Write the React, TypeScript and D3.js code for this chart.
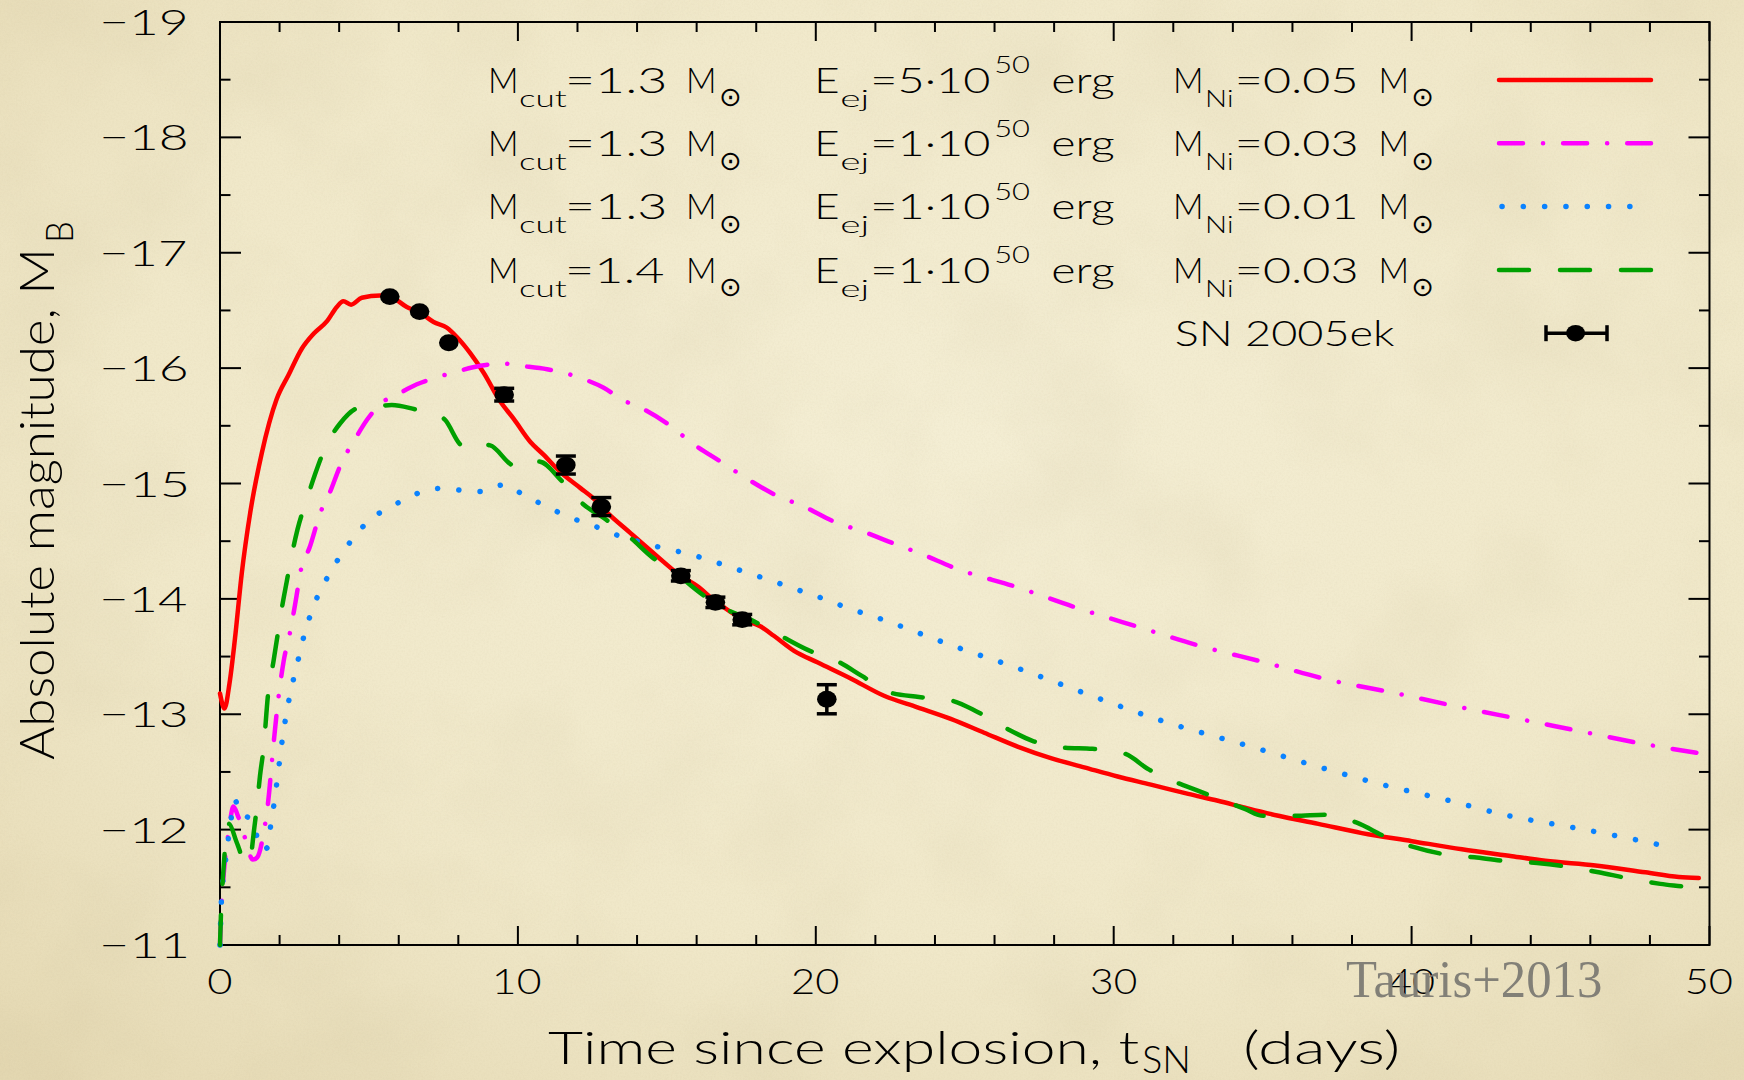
import React from "react";
import * as d3 from "d3";

const W = 1744;
const H = 1080;

// Model B-band light curves: days since explosion and absolute magnitude M_B
const redDays = [0, 0.15, 0.32, 0.5, 0.73, 1.01, 1.4, 1.9, 2.3, 2.75, 3.15, 3.6, 3.92, 4.14, 4.4, 4.76, 5.38, 5.71, 6.27, 6.72, 7.17, 7.62, 7.95, 8.4, 8.85, 9.41, 9.86, 10.42, 10.86, 11.42, 12.1, 12.54, 12.99, 13.78, 14.67, 15.46, 16.02, 16.58, 17.58, 18.15, 18.59, 19.27, 20.05, 21.17, 22.29, 23.41, 24.53, 25.65, 26.77, 27.89, 29.01, 30.13, 31.25, 32.5, 33.5, 34.41, 35.53, 36.87, 38.33, 40.01, 41.69, 43.37, 44.49, 46.17, 47.85, 48.97, 49.64];
const redMag = [-13.18, -13.05, -13.27, -13.65, -14.22, -14.74, -15.26, -15.73, -15.94, -16.17, -16.3, -16.41, -16.53, -16.58, -16.55, -16.61, -16.63, -16.62, -16.53, -16.48, -16.4, -16.35, -16.27, -16.13, -15.96, -15.71, -15.56, -15.36, -15.25, -15.1, -14.96, -14.87, -14.75, -14.57, -14.37, -14.2, -14.11, -13.99, -13.82, -13.76, -13.68, -13.55, -13.45, -13.31, -13.16, -13.06, -12.96, -12.84, -12.72, -12.62, -12.54, -12.46, -12.39, -12.31, -12.25, -12.19, -12.12, -12.05, -11.97, -11.9, -11.83, -11.77, -11.73, -11.69, -11.63, -11.59, -11.58];

const magentaDays = [0, 0.05, 0.12, 0.3, 0.45, 0.6, 0.85, 1.1, 1.25, 1.45, 1.62, 1.8, 1.96, 2.13, 2.35, 2.52, 2.74, 3.0, 3.36, 3.7, 4.03, 4.59, 4.93, 5.43, 5.94, 6.61, 7.28, 7.95, 8.74, 9.47, 10.08, 10.98, 11.54, 12.26, 12.88, 13.55, 14.17, 15.01, 15.9, 16.8, 17.7, 18.65, 19.6, 20.61, 21.62, 22.62, 23.63, 24.64, 26.77, 28.79, 30.91, 32.93, 35.06, 37.19, 39.32, 41.47, 43.59, 45.72, 47.85, 49.98];
const magentaMag = [-11.0, -11.35, -11.6, -12.0, -12.2, -12.12, -11.92, -11.74, -11.76, -11.95, -12.25, -12.75, -13.14, -13.45, -13.71, -13.95, -14.28, -14.44, -14.74, -14.93, -15.15, -15.41, -15.55, -15.7, -15.77, -15.86, -15.92, -15.97, -16.02, -16.04, -16.02, -15.99, -15.96, -15.9, -15.83, -15.72, -15.65, -15.52, -15.34, -15.19, -15.04, -14.9, -14.8, -14.67, -14.58, -14.48, -14.38, -14.27, -14.1, -13.92, -13.75, -13.59, -13.45, -13.3, -13.19, -13.07, -12.96, -12.85, -12.74, -12.65];

const blueDays = [0, 0.05, 0.15, 0.25, 0.39, 0.5, 0.67, 0.99, 1.21, 1.34, 1.57, 1.68, 1.79, 1.88, 1.96, 2.04, 2.35, 2.5, 2.65, 2.8, 2.97, 3.19, 3.47, 3.79, 4.17, 4.57, 5.06, 5.66, 6.29, 6.89, 7.53, 8.13, 8.77, 9.19, 9.58, 10.19, 10.81, 11.45, 12.12, 12.79, 13.46, 14.17, 14.86, 15.57, 16.26, 16.97, 17.66, 18.37, 19.04, 19.71, 20.39, 21.08, 21.79, 22.48, 23.19, 24.53, 26.77, 29.26, 31.3, 34.86, 36.93, 39.02, 41.13, 43.26, 45.39, 47.57, 48.3];
const blueMag = [-11.0, -11.4, -11.65, -11.86, -12.12, -12.26, -12.13, -12.1, -11.97, -11.83, -11.84, -12.0, -12.18, -12.35, -12.51, -12.68, -13.17, -13.34, -13.5, -13.66, -13.81, -13.97, -14.12, -14.27, -14.42, -14.56, -14.69, -14.79, -14.87, -14.94, -14.96, -14.94, -14.93, -14.97, -14.99, -14.9, -14.82, -14.74, -14.67, -14.61, -14.54, -14.49, -14.44, -14.4, -14.35, -14.29, -14.23, -14.17, -14.11, -14.05, -13.99, -13.92, -13.86, -13.8, -13.73, -13.6, -13.4, -13.16, -12.97, -12.7, -12.54, -12.39, -12.26, -12.12, -12.02, -11.91, -11.87];

const greenDays = [0, 0.03, 0.11, 0.2, 0.3, 0.56, 0.87, 1.01, 1.14, 1.25, 1.34, 1.46, 1.62, 1.79, 1.93, 2.07, 2.24, 2.41, 2.6, 2.91, 3.19, 3.53, 4.03, 4.7, 5.27, 5.77, 6.61, 7.17, 7.56, 8.06, 8.34, 8.74, 9.07, 9.74, 10.02, 10.7, 11.48, 12.15, 12.94, 13.78, 14.51, 15.12, 16.13, 16.91, 17.81, 18.82, 19.71, 20.72, 21.56, 22.46, 23.46, 24.53, 25.43, 26.38, 27.27, 28.34, 29.29, 30.35, 31.19, 32.0, 32.8, 33.6, 34.4, 35.02, 36.09, 37.1, 38.16, 39.11, 40.06, 41.02, 42.11, 43.09, 44.21, 45.18, 46.28, 47.23, 48.35, 49.3, 49.75];
const greenMag = [-11.0, -11.25, -11.63, -11.92, -12.05, -11.89, -11.71, -11.74, -11.99, -12.23, -12.46, -12.7, -13.19, -13.45, -13.68, -13.91, -14.15, -14.38, -14.6, -14.86, -15.08, -15.31, -15.52, -15.66, -15.67, -15.68, -15.64, -15.61, -15.55, -15.34, -15.3, -15.34, -15.33, -15.17, -15.13, -15.19, -15.02, -14.83, -14.69, -14.53, -14.36, -14.26, -14.05, -13.92, -13.82, -13.68, -13.56, -13.46, -13.33, -13.19, -13.15, -13.12, -13.02, -12.88, -12.77, -12.71, -12.7, -12.66, -12.52, -12.42, -12.34, -12.26, -12.18, -12.12, -12.12, -12.13, -12.06, -11.94, -11.85, -11.79, -11.76, -11.73, -11.71, -11.68, -11.63, -11.58, -11.53, -11.5, -11.48];

// SN 2005ek photometry
const obsDays = [5.7, 6.7, 7.68, 9.54, 11.61, 12.8, 15.47, 16.63, 17.53, 20.37];
const obsMag = [-16.62, -16.49, -16.22, -15.77, -15.16, -14.8, -14.2, -13.97, -13.82, -13.13];
const obsErr = [0, 0, 0, 0.055, 0.078, 0.078, 0.045, 0.045, 0.045, 0.126];

// Axis ticks
const xMajorTicks = [0, 10, 20, 30, 40, 50];
const xMinorTicks = [2, 4, 6, 8, 12, 14, 16, 18, 22, 24, 26, 28, 32, 34, 36, 38, 42, 44, 46, 48];
const yMajorTicks = [-19, -18, -17, -16, -15, -14, -13, -12, -11];
const yMinorTicks = [-18.5, -17.5, -16.5, -15.5, -14.5, -13.5, -12.5, -11.5];

// Legend entries (model parameters)
const legendMcut = ["1.3", "1.3", "1.3", "1.4"];
const legendEej = ["5", "1", "1", "1"];
const legendMni = ["0.05", "0.03", "0.01", "0.03"];

const FONT = "Lato, 'Open Sans', 'DejaVu Sans', sans-serif";
const SERIF = "'Liberation Serif', 'Times New Roman', serif";

const seriesStyle = [
  { color: "#ff0000", dash: undefined, width: 4.5 },
  { color: "#ff00ff", dash: "24 20 0.1 20", width: 4.5 },
  { color: "#0a82ff", dash: "0.1 21.2", width: 5.5 },
  { color: "#00a000", dash: "30 31", width: 4.5 },
];

// Glyph ink metrics, used to stretch each text run to a wide face
let measureCtx: CanvasRenderingContext2D | null = null;
function inkMetrics(text: string, size: number, family: string, weight: number) {
  if (!measureCtx && typeof document !== "undefined") {
    measureCtx = document.createElement("canvas").getContext("2d");
  }
  if (!measureCtx) return { left: 0, right: text.length * size * 0.55 };
  measureCtx.font = `${weight} ${size}px ${family}`;
  const m = measureCtx.measureText(text);
  return { left: m.actualBoundingBoxLeft, right: m.actualBoundingBoxRight };
}

type TxtProps = {
  x?: number;
  y?: number;
  ink?: number; // target visible width of the run
  size: number;
  anchor?: "start" | "middle" | "end";
  family?: string;
  weight?: number;
  fill?: string;
  opacity?: number;
  rotate?: number;
  children: string;
};

function Txt({ x = 0, y = 0, ink, size, anchor = "start", family = FONT, weight = 300, fill = "#000", opacity, rotate = 0, children }: TxtProps) {
  const m = inkMetrics(children, size, family, weight);
  const natural = Math.max(1, m.left + m.right);
  const sx = ink ? ink / natural : 1;
  // origin along the text direction so that the ink lands where requested
  let o: number;
  if (anchor === "start") o = m.left * sx;
  else if (anchor === "end") o = -m.right * sx;
  else o = (-(m.right - m.left) / 2) * sx;
  const t = `translate(${x},${y}) rotate(${rotate}) translate(${o},0) scale(${sx},1)`;
  return (
    <text
      x={0}
      y={0}
      transform={t}
      fontSize={size}
      fontFamily={family}
      fontWeight={weight}
      fill={fill}
      opacity={opacity}
    >
      {children}
    </text>
  );
}

function Sun({ cx, cy }: { cx: number; cy: number }) {
  return (
    <text x={cx} y={cy + 9.5} fontSize={27} fontFamily="'DejaVu Sans', sans-serif" textAnchor="middle" fill="#000">
      ⊙
    </text>
  );
}

export default function App() {
  const x = d3.scaleLinear().domain([0, 50]).range([220, 1709.5]);
  const y = d3.scaleLinear().domain([-19, -11]).range([22, 945]);

  const line = d3
    .line<[number, number]>()
    .x((d) => x(d[0]))
    .y((d) => y(d[1]))
    .curve(d3.curveMonotoneX);

  const series = [
    d3.zip(redDays, redMag) as [number, number][],
    d3.zip(magentaDays, magentaMag) as [number, number][],
    d3.zip(blueDays, blueMag) as [number, number][],
    d3.zip(greenDays, greenMag) as [number, number][],
  ];

  const [x0, x1] = x.range();
  const [yTop, yBot] = y.range();

  const rowBase = (i: number) => 92.7 + 63.3 * i;

  return (
    <div style={{ position: "absolute", left: 0, top: 0, width: W, height: H, overflow: "hidden" }}>
      <svg width={W} height={H} viewBox={`0 0 ${W} ${H}`} style={{ display: "block" }}>
        <defs>
          <radialGradient id="paperTone" cx="55%" cy="40%" r="80%">
            <stop offset="0" stopColor="#f4eed4" />
            <stop offset="0.6" stopColor="#f0e8c9" />
            <stop offset="1" stopColor="#e5d9b3" />
          </radialGradient>
          <filter id="mottle" x="0" y="0" width="100%" height="100%">
            <feTurbulence type="fractalNoise" baseFrequency="0.007" numOctaves="4" seed="7" result="n" />
            <feColorMatrix
              in="n"
              type="matrix"
              values="0 0 0 0 0.55  0 0 0 0 0.47  0 0 0 0 0.28  1.3 0 0 0 -0.55"
            />
          </filter>
          <filter id="grain" x="0" y="0" width="100%" height="100%">
            <feTurbulence type="fractalNoise" baseFrequency="0.55" numOctaves="2" seed="3" result="g" />
            <feColorMatrix
              in="g"
              type="matrix"
              values="0 0 0 0 0.5  0 0 0 0 0.42  0 0 0 0 0.25  1.2 0 0 0 -0.45"
            />
          </filter>
        </defs>

        {/* parchment background */}
        <rect x={0} y={0} width={W} height={H} fill="url(#paperTone)" />
        <rect x={0} y={0} width={W} height={H} filter="url(#mottle)" opacity={0.2} />
        <rect x={0} y={0} width={W} height={H} filter="url(#grain)" opacity={0.12} />

        {/* frame */}
        <rect x={x0} y={yTop} width={x1 - x0} height={yBot - yTop} fill="none" stroke="#000" strokeWidth={2} />

        {/* ticks */}
        <g stroke="#000" strokeWidth={2}>
          {xMajorTicks.map((t) => (
            <g key={`xM${t}`}>
              <line x1={x(t)} x2={x(t)} y1={yBot} y2={yBot - 19} />
              <line x1={x(t)} x2={x(t)} y1={yTop} y2={yTop + 19} />
            </g>
          ))}
          {xMinorTicks.map((t) => (
            <g key={`xm${t}`}>
              <line x1={x(t)} x2={x(t)} y1={yBot} y2={yBot - 10} />
              <line x1={x(t)} x2={x(t)} y1={yTop} y2={yTop + 10} />
            </g>
          ))}
          {yMajorTicks.map((t) => (
            <g key={`yM${t}`}>
              <line x1={x0} x2={x0 + 21} y1={y(t)} y2={y(t)} />
              <line x1={x1} x2={x1 - 21} y1={y(t)} y2={y(t)} />
            </g>
          ))}
          {yMinorTicks.map((t) => (
            <g key={`ym${t}`}>
              <line x1={x0} x2={x0 + 10.5} y1={y(t)} y2={y(t)} />
              <line x1={x1} x2={x1 - 10.5} y1={y(t)} y2={y(t)} />
            </g>
          ))}
        </g>

        {/* tick labels */}
        {yMajorTicks.map((t) => (
          <Txt key={`yl${t}`} x={186} y={y(t) + 13} size={36} ink={84} anchor="end">
            {`−${Math.abs(t)}`}
          </Txt>
        ))}
        {xMajorTicks.map((t) => (
          <Txt key={`xl${t}`} x={x(t)} y={994} size={36} ink={t === 0 ? 23 : 45} anchor="middle">
            {String(t)}
          </Txt>
        ))}

        {/* axis titles */}
        <Txt x={548} y={1064} size={45} ink={591}>Time since explosion, t</Txt>
        <Txt x={1143} y={1073} size={37} ink={45}>SN</Txt>
        <Txt x={1246} y={1064} size={45} ink={152}>(days)</Txt>
        <Txt x={54} y={760} rotate={-90} size={48} ink={507}>Absolute magnitude, M</Txt>
        <Txt x={73} y={240} rotate={-90} size={38} ink={17}>B</Txt>

        {/* model curves */}
        {series.map((pts, i) => (
          <path
            key={`s${i}`}
            d={line(pts) ?? ""}
            fill="none"
            stroke={seriesStyle[i].color}
            strokeWidth={seriesStyle[i].width}
            strokeDasharray={seriesStyle[i].dash}
            strokeLinecap="round"
            strokeLinejoin="round"
          />
        ))}

        {/* observed points with error bars */}
        <g fill="#000" stroke="#000">
          {obsDays.map((d, i) => {
            const cx = x(d);
            const cy = y(obsMag[i]);
            const e = obsErr[i];
            return (
              <g key={`o${i}`}>
                {e > 0 && (
                  <g strokeWidth={3.5}>
                    <line x1={cx} x2={cx} y1={y(obsMag[i] - e)} y2={y(obsMag[i] + e)} />
                    <line x1={cx - 10} x2={cx + 10} y1={y(obsMag[i] - e)} y2={y(obsMag[i] - e)} />
                    <line x1={cx - 10} x2={cx + 10} y1={y(obsMag[i] + e)} y2={y(obsMag[i] + e)} />
                  </g>
                )}
                <ellipse cx={cx} cy={cy} rx={9.8} ry={8.4} stroke="none" />
              </g>
            );
          })}
        </g>

        {/* legend */}
        {legendMcut.map((mc, i) => {
          const b = rowBase(i);
          const st = seriesStyle[i];
          const ly = b - 12.7;
          return (
            <g key={`lg${i}`}>
              <Txt x={491} y={b} size={35} ink={25}>M</Txt>
              <Txt x={520.5} y={b + 14} size={23} ink={46.5}>cut</Txt>
              <Txt x={568} y={b} size={35} ink={96}>{`=${mc}`}</Txt>
              <Txt x={689} y={b} size={35} ink={25}>M</Txt>
              <Sun cx={730.5} cy={b + 4} />

              <Txt x={818} y={b} size={35} ink={20}>E</Txt>
              <Txt x={842} y={b + 14} size={23} ink={25.4}>ej</Txt>
              <Txt x={873} y={b} size={35} ink={117}>{`=${legendEej[i]}·10`}</Txt>
              <Txt x={995.5} y={b - 19.4} size={23} ink={34}>50</Txt>
              <Txt x={1052.7} y={b} size={35} ink={61}>erg</Txt>

              <Txt x={1176} y={b} size={35} ink={25}>M</Txt>
              <Txt x={1207.6} y={b + 14} size={23} ink={24.4}>Ni</Txt>
              <Txt x={1237.6} y={b} size={35} ink={117.8}>{`=${legendMni[i]}`}</Txt>
              <Txt x={1381.3} y={b} size={35} ink={25}>M</Txt>
              <Sun cx={1422.7} cy={b + 4} />

              <line
                x1={i === 2 ? 1502 : 1499}
                x2={1651}
                y1={ly}
                y2={ly}
                stroke={st.color}
                strokeWidth={st.width}
                strokeDasharray={st.dash}
                strokeLinecap="round"
              />
            </g>
          );
        })}
        {(() => {
          const b = rowBase(4);
          const ly = b - 12.7;
          return (
            <g>
              <Txt x={1176} y={b} size={35} ink={219}>SN 2005ek</Txt>
              <g stroke="#000" strokeWidth={3.5}>
                <line x1={1546} x2={1607} y1={ly} y2={ly} />
                <line x1={1546} x2={1546} y1={ly - 8} y2={ly + 8} />
                <line x1={1607} x2={1607} y1={ly - 8} y2={ly + 8} />
              </g>
              <ellipse cx={1575.6} cy={ly} rx={9.5} ry={8.3} fill="#000" />
            </g>
          );
        })()}

        {/* attribution */}
        <Txt x={1346} y={997} size={53} ink={255} family={SERIF} weight={400} fill="#7d7b74" opacity={0.95}>
          Tauris+2013
        </Txt>
      </svg>
    </div>
  );
}
